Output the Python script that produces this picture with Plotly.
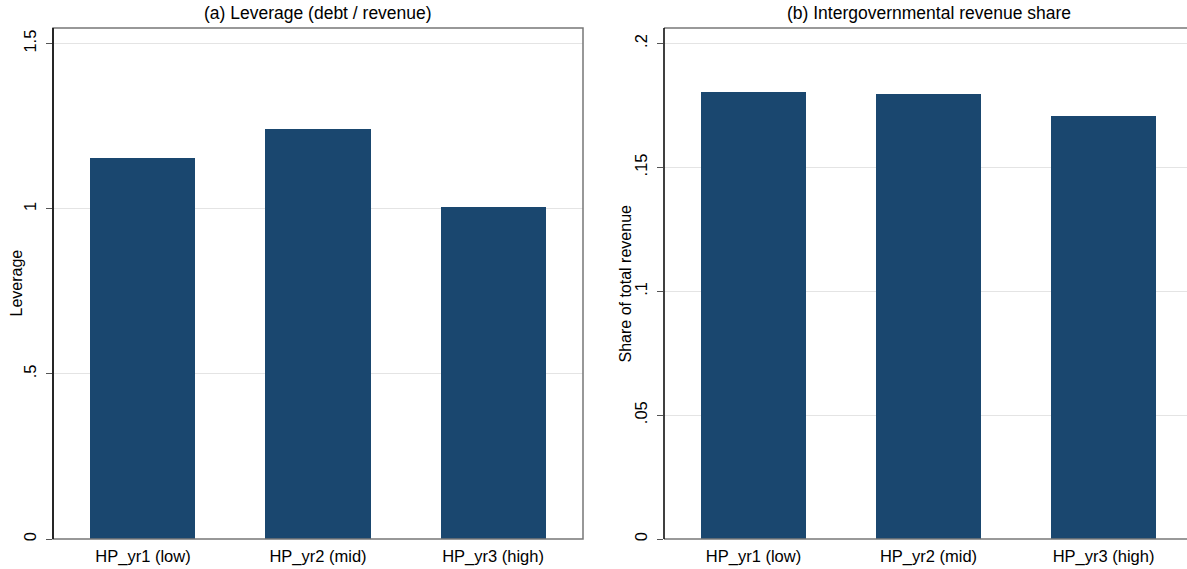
import plotly.graph_objects as go

categories = ["HP_yr1 (low)", "HP_yr2 (mid)", "HP_yr3 (high)"]
leverage = [1.155, 1.242, 1.007]
interg_share = [0.1803, 0.1795, 0.1707]

lev_ticks = [0, 0.5, 1, 1.5]
lev_ticktext = ["0", ".5", "1", "1.5"]
share_ticks = [0, 0.05, 0.1, 0.15, 0.2]
share_ticktext = ["0", ".05", ".1", ".15", ".2"]

W, H = 1187, 569
BAR = "#1a476f"
FONT = "Arial, Liberation Sans, Helvetica, sans-serif"

fig = go.Figure()
fig.add_trace(go.Bar(x=categories, y=leverage, marker=dict(color=BAR, line=dict(width=0)),
                     width=0.6, xaxis="x", yaxis="y", showlegend=False))
fig.add_trace(go.Bar(x=categories, y=interg_share, marker=dict(color=BAR, line=dict(width=0)),
                     width=0.6, xaxis="x2", yaxis="y2", showlegend=False))

ydom = [28 / H, 541 / H]
xa_dom = [53 / W, 583 / W]
xb_dom = [664 / W, 1.0]

common_x = dict(type="category", showgrid=False, ticks="", showline=False, zeroline=False,
                ticklabelstandoff=5,
                tickfont=dict(size=16.5, color="black", family=FONT))
common_y = dict(showgrid=True, gridcolor="#e4e4e4", gridwidth=1.2, zeroline=False,
                ticks="outside", ticklen=6, tickcolor="#555555", tickwidth=1,
                tickangle=-90, showline=False, ticklabelstandoff=3,
                tickfont=dict(size=16.5, color="black", family=FONT))

fig.update_layout(
    width=W, height=H,
    margin=dict(l=0, r=0, t=0, b=0),
    paper_bgcolor="white", plot_bgcolor="white",
    font=dict(family=FONT, color="black"),
    bargap=0,
    xaxis=dict(domain=xa_dom, range=[-0.514, 2.514], anchor="y", **common_x),
    yaxis=dict(domain=ydom, range=[0, 1.5475], anchor="x", tickvals=lev_ticks,
               ticktext=lev_ticktext, **common_y),
    xaxis2=dict(domain=xb_dom, range=[-0.5114, 2.477], anchor="y2", **common_x),
    yaxis2=dict(domain=ydom, range=[0, 0.2063], anchor="x2", tickvals=share_ticks,
                ticktext=share_ticktext, **common_y),
)

frame_col = "#777777"
# Panel (a) frame
fig.add_shape(type="rect", xref="x domain", yref="y domain", x0=0, x1=1, y0=0, y1=1,
              line=dict(color=frame_col, width=1.5), layer="above")
fig.add_shape(type="line", xref="x domain", yref="y domain", x0=0, x1=0, y0=0, y1=1,
              line=dict(color="black", width=1.5), layer="above")
# Panel (b) frame (right edge lies beyond the window)
fig.add_shape(type="line", xref="x2 domain", yref="y2 domain", x0=0, x1=1.02, y0=1, y1=1,
              line=dict(color=frame_col, width=1.5), layer="above")
fig.add_shape(type="line", xref="x2 domain", yref="y2 domain", x0=0, x1=1.02, y0=0, y1=0,
              line=dict(color=frame_col, width=1.5), layer="above")
fig.add_shape(type="line", xref="x2 domain", yref="y2 domain", x0=0, x1=0, y0=0, y1=1,
              line=dict(color="black", width=1.5), layer="above")

# Panel titles
fig.add_annotation(text="(a) Leverage (debt / revenue)", xref="paper", yref="paper",
                   x=318 / W, y=(H - 13) / H, xanchor="center", yanchor="middle",
                   showarrow=False, font=dict(size=17.5, color="black", family=FONT))
fig.add_annotation(text="(b) Intergovernmental revenue share", xref="paper", yref="paper",
                   x=929 / W, y=(H - 13) / H, xanchor="center", yanchor="middle",
                   showarrow=False, font=dict(size=17.5, color="black", family=FONT))

# Axis titles
fig.add_annotation(text="Leverage", xref="paper", yref="paper",
                   x=16 / W, y=(H - 284.5) / H, xanchor="center", yanchor="middle",
                   textangle=-90, showarrow=False, font=dict(size=16, color="black", family=FONT))
fig.add_annotation(text="Share of total revenue", xref="paper", yref="paper",
                   x=625 / W, y=(H - 284.5) / H, xanchor="center", yanchor="middle",
                   textangle=-90, showarrow=False, font=dict(size=16, color="black", family=FONT))

# remove the browser's default 8px body margin so the figure starts at the window origin
fig.write_html("out.html", config=dict(displayModeBar=False),
               post_script="document.body.style.margin='0';")
